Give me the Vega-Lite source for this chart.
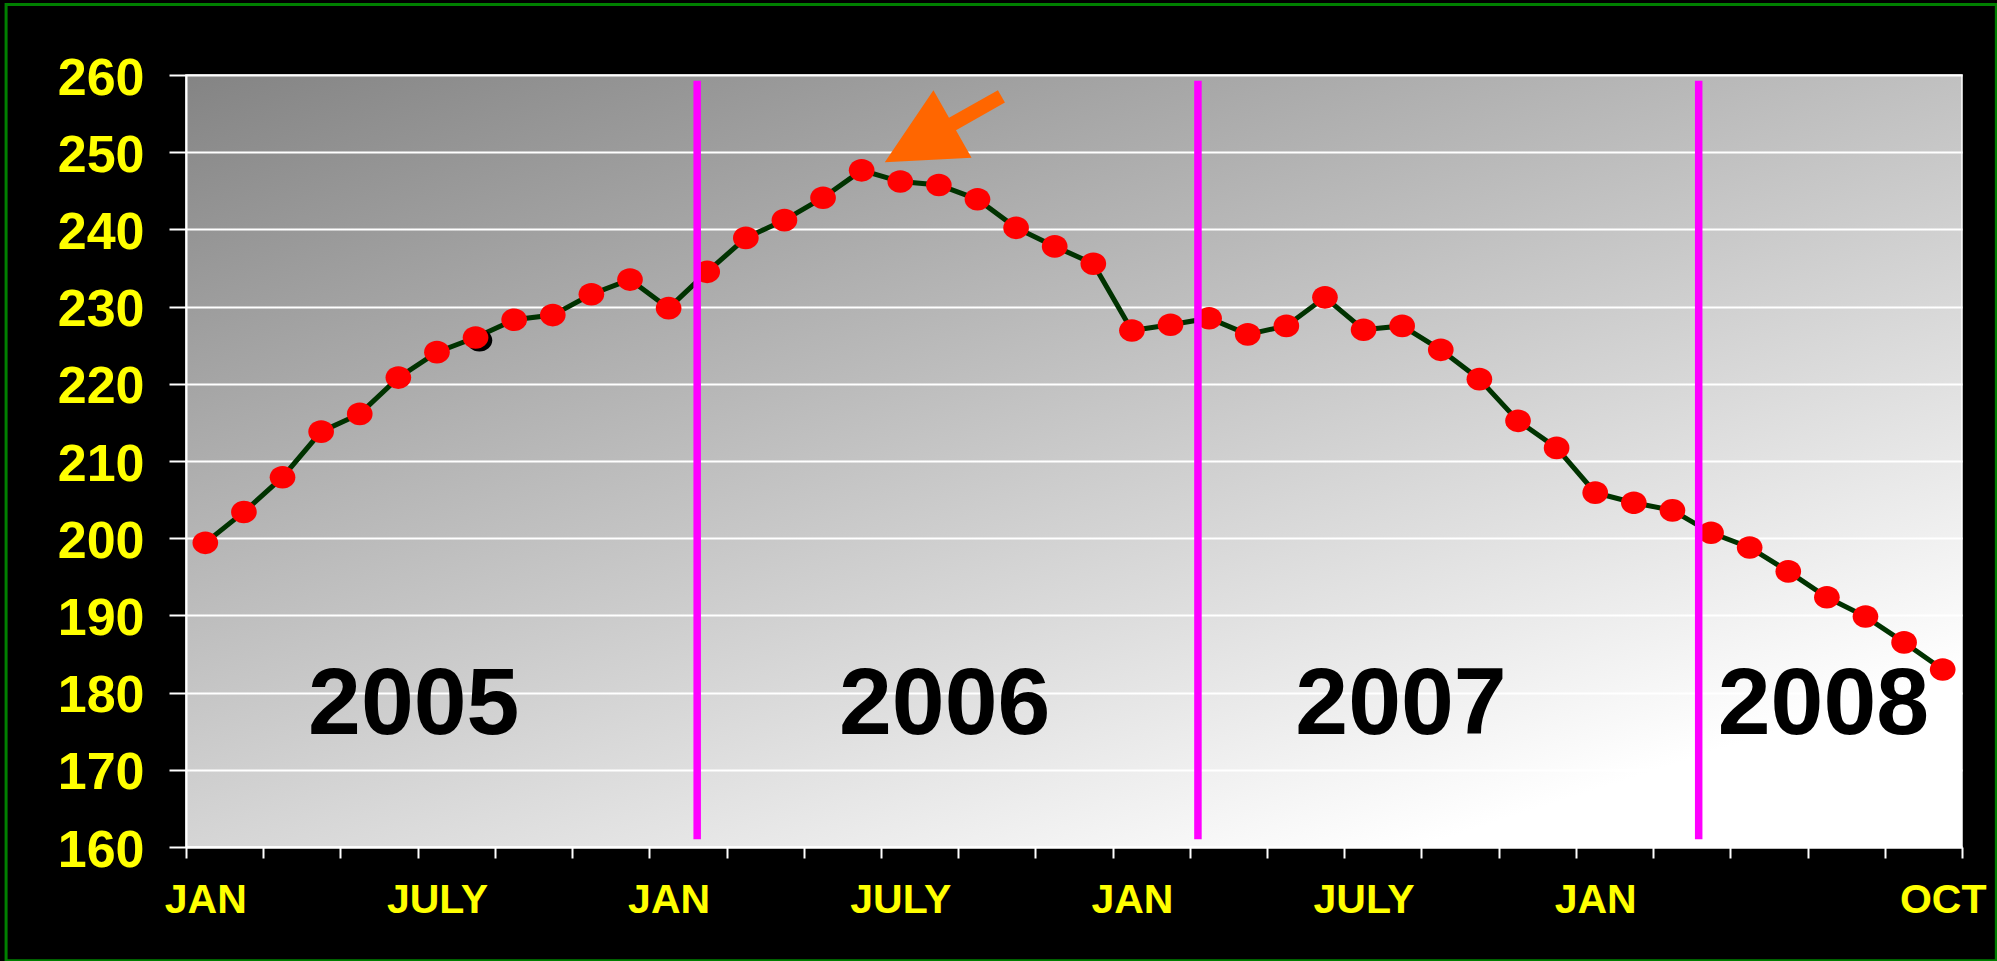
{
  "$schema": "https://vega.github.io/schema/vega-lite/v6.json",
  "width": 1776,
  "height": 772,
  "autosize": {"type": "none"},
  "padding": {"left": 186, "top": 75, "right": 35, "bottom": 114},
  "background": "#000000",
  "view": {
    "fill": {"gradient": "linear", "x1": 0, "y1": 0, "x2": 0.725, "y2": 0.977, "stops": [{"offset": 0, "color": "#848484"}, {"offset": 1, "color": "#ffffff"}]},
    "stroke": "#ffffff",
    "strokeWidth": 1.5
  },
  "config": {
    "axisX": {
      "title": null,
      "grid": false,
      "domainColor": "#ffffff",
      "domainWidth": 2,
      "tickColor": "#ffffff",
      "tickWidth": 2,
      "tickSize": 11,
      "labelColor": "#ffff00",
      "labelFont": "Liberation Sans",
      "labelFontSize": 41,
      "labelFontWeight": "bold",
      "labelPadding": 22,
      "labelOverlap": false,
      "labelFlush": false,
      "labelBound": false
    },
    "axisY": {
      "title": null,
      "grid": true,
      "gridColor": "#ffffff",
      "gridWidth": 2,
      "gridOpacity": 1,
      "domainColor": "#ffffff",
      "domainWidth": 2,
      "tickColor": "#ffffff",
      "tickWidth": 2,
      "tickSize": 17,
      "labelColor": "#ffff00",
      "labelFont": "Liberation Sans",
      "labelFontSize": 52,
      "labelFontWeight": "bold",
      "labelPadding": 25,
      "labelOffset": 3,
      "labelOverlap": false,
      "labelFlush": false,
      "labelBound": false
    }
  },
  "data": {"values": [
    {"month": "2005-01", "t": 0, "value": 199.4},
    {"month": "2005-02", "t": 1, "value": 203.4},
    {"month": "2005-03", "t": 2, "value": 207.9},
    {"month": "2005-04", "t": 3, "value": 213.8},
    {"month": "2005-05", "t": 4, "value": 216.1},
    {"month": "2005-06", "t": 5, "value": 220.8},
    {"month": "2005-07", "t": 6, "value": 224.1},
    {"month": "2005-08", "t": 7, "value": 226.0},
    {"month": "2005-09", "t": 8, "value": 228.3},
    {"month": "2005-10", "t": 9, "value": 228.9},
    {"month": "2005-11", "t": 10, "value": 231.6},
    {"month": "2005-12", "t": 11, "value": 233.5},
    {"month": "2006-01", "t": 12, "value": 229.8},
    {"month": "2006-02", "t": 13, "value": 234.5},
    {"month": "2006-03", "t": 14, "value": 238.9},
    {"month": "2006-04", "t": 15, "value": 241.2},
    {"month": "2006-05", "t": 16, "value": 244.1},
    {"month": "2006-06", "t": 17, "value": 247.65},
    {"month": "2006-07", "t": 18, "value": 246.2},
    {"month": "2006-08", "t": 19, "value": 245.75},
    {"month": "2006-09", "t": 20, "value": 243.9},
    {"month": "2006-10", "t": 21, "value": 240.2},
    {"month": "2006-11", "t": 22, "value": 237.8},
    {"month": "2006-12", "t": 23, "value": 235.55},
    {"month": "2007-01", "t": 24, "value": 226.9},
    {"month": "2007-02", "t": 25, "value": 227.65},
    {"month": "2007-03", "t": 26, "value": 228.5},
    {"month": "2007-04", "t": 27, "value": 226.4},
    {"month": "2007-05", "t": 28, "value": 227.5},
    {"month": "2007-06", "t": 29, "value": 231.2},
    {"month": "2007-07", "t": 30, "value": 227.0},
    {"month": "2007-08", "t": 31, "value": 227.5},
    {"month": "2007-09", "t": 32, "value": 224.4},
    {"month": "2007-10", "t": 33, "value": 220.6},
    {"month": "2007-11", "t": 34, "value": 215.2},
    {"month": "2007-12", "t": 35, "value": 211.7},
    {"month": "2008-01", "t": 36, "value": 205.9},
    {"month": "2008-02", "t": 37, "value": 204.6},
    {"month": "2008-03", "t": 38, "value": 203.6},
    {"month": "2008-04", "t": 39, "value": 200.7},
    {"month": "2008-05", "t": 40, "value": 198.8},
    {"month": "2008-06", "t": 41, "value": 195.7},
    {"month": "2008-07", "t": 42, "value": 192.35},
    {"month": "2008-08", "t": 43, "value": 189.85},
    {"month": "2008-09", "t": 44, "value": 186.5},
    {"month": "2008-10", "t": 45, "value": 183.0}
  ]},
  "layer": [
    {
      "mark": {"type": "line", "color": "#003300", "strokeWidth": 5},
      "encoding": {
        "x": {
          "field": "t", "type": "quantitative",
          "scale": {"domain": [-0.5, 45.5], "nice": false, "zero": false},
          "axis": {
            "values": [-0.5, 0, 1.5, 3.5, 5.5, 6, 7.5, 9.5, 11.5, 12, 13.5, 15.5, 17.5, 18, 19.5, 21.5, 23.5, 24, 25.5, 27.5, 29.5, 30, 31.5, 33.5, 35.5, 36, 37.5, 39.5, 41.5, 43.5, 45, 45.5],
            "labelExpr": "datum.value === 0 || datum.value === 12 || datum.value === 24 || datum.value === 36 ? 'JAN' : (datum.value === 6 || datum.value === 18 || datum.value === 30 ? 'JULY' : (datum.value === 45 ? 'OCT' : ''))",
            "tickOpacity": {"condition": {"test": "datum.value % 1 === 0", "value": 0}, "value": 1}
          }
        },
        "y": {
          "field": "value", "type": "quantitative",
          "scale": {"domain": [160, 260], "nice": false, "zero": false},
          "axis": {"values": [160, 170, 180, 190, 200, 210, 220, 230, 240, 250, 260]}
        }
      }
    },
    {
      "data": {"values": [{}]},
      "mark": {"type": "point", "filled": true, "opacity": 1, "color": "#000000", "size": 660, "shape": "M-1,0A1,0.88,0,1,0,1,0A1,0.88,0,1,0,-1,0Z", "strokeWidth": 0},
      "encoding": {
        "x": {"datum": 7.1, "type": "quantitative"},
        "y": {"datum": 225.65, "type": "quantitative"}
      }
    },
    {
      "mark": {"type": "point", "filled": true, "opacity": 1, "color": "#ff0000", "size": 660, "shape": "M-1,0A1,0.88,0,1,0,1,0A1,0.88,0,1,0,-1,0Z", "strokeWidth": 0},
      "encoding": {
        "x": {"field": "t", "type": "quantitative"},
        "y": {"field": "value", "type": "quantitative"}
      }
    },
    {
      "data": {"values": [{}]},
      "mark": {"type": "rule", "color": "#ff00ff", "strokeWidth": 7.5},
      "encoding": {
        "x": {"datum": 12.74, "type": "quantitative"},
        "y": {"datum": 161.0, "type": "quantitative"},
        "y2": {"datum": 259.26}
      }
    },
    {
      "data": {"values": [{}]},
      "mark": {"type": "rule", "color": "#ff00ff", "strokeWidth": 7.5},
      "encoding": {
        "x": {"datum": 25.71, "type": "quantitative"},
        "y": {"datum": 161.0, "type": "quantitative"},
        "y2": {"datum": 259.26}
      }
    },
    {
      "data": {"values": [{}]},
      "mark": {"type": "rule", "color": "#ff00ff", "strokeWidth": 7.5},
      "encoding": {
        "x": {"datum": 38.68, "type": "quantitative"},
        "y": {"datum": 161.0, "type": "quantitative"},
        "y2": {"datum": 259.26}
      }
    },
    {
      "data": {"values": [{}]},
      "mark": {"type": "text", "text": "2005", "font": "Liberation Sans", "fontSize": 95, "fontWeight": "bold", "color": "#000000", "align": "center", "baseline": "alphabetic"},
      "encoding": {
        "x": {"datum": 5.4, "type": "quantitative"},
        "y": {"datum": 174.6, "type": "quantitative"}
      }
    },
    {
      "data": {"values": [{}]},
      "mark": {"type": "text", "text": "2006", "font": "Liberation Sans", "fontSize": 95, "fontWeight": "bold", "color": "#000000", "align": "center", "baseline": "alphabetic"},
      "encoding": {
        "x": {"datum": 19.15, "type": "quantitative"},
        "y": {"datum": 174.6, "type": "quantitative"}
      }
    },
    {
      "data": {"values": [{}]},
      "mark": {"type": "text", "text": "2007", "font": "Liberation Sans", "fontSize": 95, "fontWeight": "bold", "color": "#000000", "align": "center", "baseline": "alphabetic"},
      "encoding": {
        "x": {"datum": 30.97, "type": "quantitative"},
        "y": {"datum": 174.6, "type": "quantitative"}
      }
    },
    {
      "data": {"values": [{}]},
      "mark": {"type": "text", "text": "2008", "font": "Liberation Sans", "fontSize": 95, "fontWeight": "bold", "color": "#000000", "align": "center", "baseline": "alphabetic"},
      "encoding": {
        "x": {"datum": 41.91, "type": "quantitative"},
        "y": {"datum": 174.6, "type": "quantitative"}
      }
    },
    {
      "data": {"values": [{}]},
      "mark": {"type": "point", "filled": true, "opacity": 1, "color": "#ff6600", "size": 17956, "angle": -29.5, "strokeWidth": 0, "shape": "M-1,0L0.161,-0.578L0.161,-0.106L1,-0.106L1,0.106L0.161,0.106L0.161,0.578Z"},
      "encoding": {
        "x": {"datum": 19.11, "type": "quantitative"},
        "y": {"datum": 252.96, "type": "quantitative"}
      }
    },
    {
      "data": {"values": [{}]},
      "mark": {"type": "rect", "filled": false, "stroke": "#008000", "strokeWidth": 3},
      "encoding": {
        "x": {"datum": -5.16, "type": "quantitative"},
        "x2": {"datum": 46.39},
        "y": {"datum": 269.14, "type": "quantitative"},
        "y2": {"datum": 145.25}
      }
    }
  ]
}
